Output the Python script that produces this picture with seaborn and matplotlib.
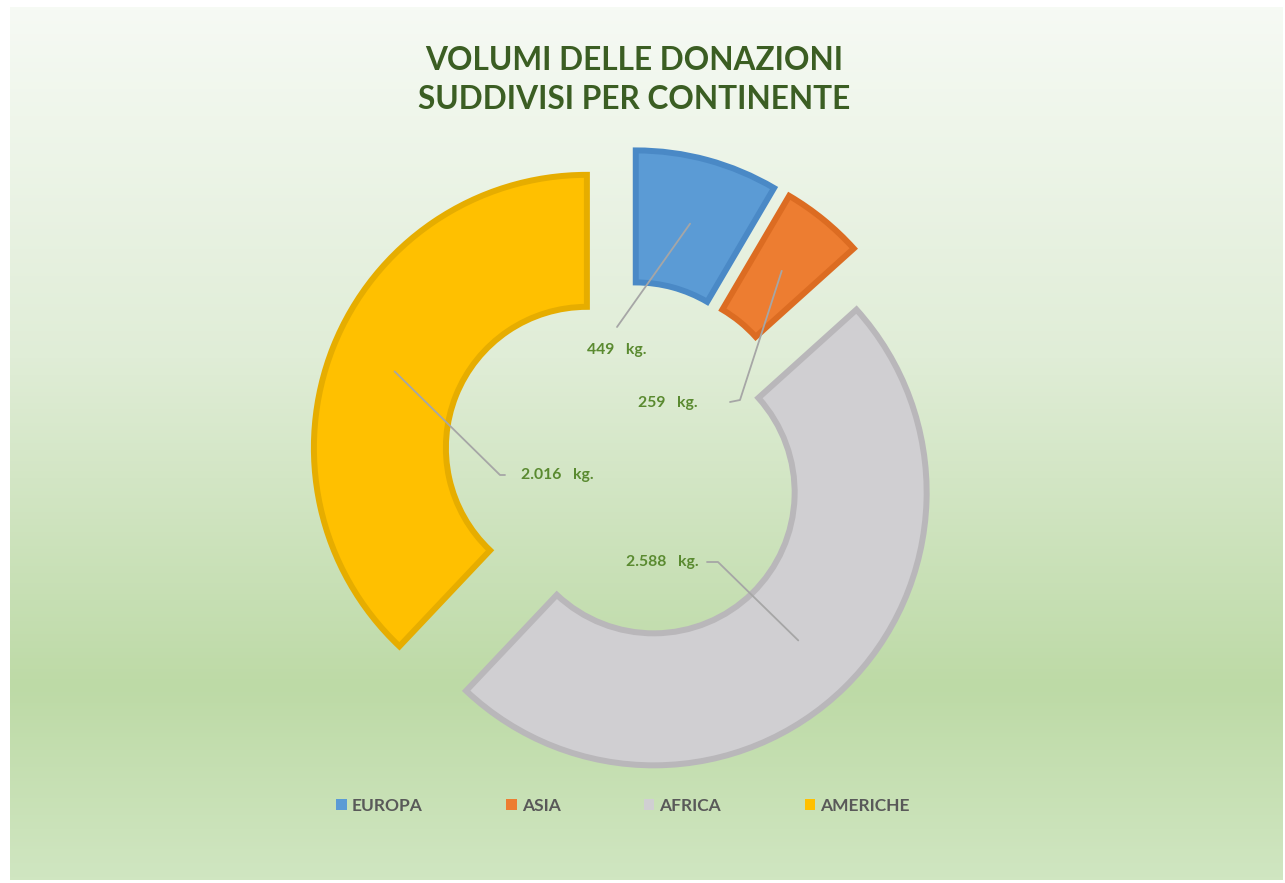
import numpy as np
import matplotlib
matplotlib.use("Agg")
import matplotlib.pyplot as plt
import seaborn as sns
from matplotlib.colors import LinearSegmentedColormap
from matplotlib.patches import Patch

sns.set_style("white")
plt.rcParams['font.family'] = ['Lato', 'DejaVu Sans']

# ---- data ----
categories = ["EUROPA", "ASIA", "AFRICA", "AMERICHE"]
values = [449, 259, 2588, 2016]
value_labels = ["449   kg.", "259   kg.", "2.588   kg.", "2.016   kg."]
fill_colors = ["#5B9BD5", "#ED7D31", "#D0CFD2", "#FFC000"]
edge_colors = ["#4A89C6", "#DC6C22", "#B9B7BA", "#E6AD00"]
title = "VOLUMI DELLE DONAZIONI\nSUDDIVISI PER CONTINENTE"

W, H = 1285, 883
fig = plt.figure(figsize=(W / 100, H / 100), dpi=100)
fig.patch.set_facecolor("white")

# background gradient
bg = fig.add_axes([10 / W, 3 / H, 1273 / W, 873 / H])
cmap = LinearSegmentedColormap.from_list(
    "bg", [(0.0, "#F6FAF4"), (0.4, "#E0EDD7"), (0.78, "#BDDAA6"), (1.0, "#D0E6C1")])
grad = np.linspace(0, 1, 256).reshape(-1, 1)
bg.imshow(grad, aspect="auto", cmap=cmap, extent=[0, 1, 0, 1], origin="upper")
bg.axis("off")

ax = fig.add_axes([0, 0, 1, 1])
ax.patch.set_alpha(0)

cx, cy = 625, H - 463
R, ring = 273, 132
expl = 41
wedges, _ = ax.pie(values, colors=fill_colors, startangle=90, counterclock=False,
                   radius=R, center=(cx, cy), explode=[expl] * len(values),
                   wedgeprops=dict(width=ring, linewidth=4.3, joinstyle="miter"))
for w, ec in zip(wedges, edge_colors):
    w.set_edgecolor(ec)

# label layout (text anchor positions, image px) and elbow points
label_pos = [(617, 350), (668, 403), (662, 562), (557, 475)]
elbow = [(617, 327), (730, 402), (707, 562), (505, 475)]
knee = [(617, 327), (740, 400), (718, 562), (500, 475)]
for w, lp, el, kn, txt in zip(wedges, label_pos, elbow, knee, value_labels):
    th = np.deg2rad((w.theta1 + w.theta2) / 2)
    wx, wy = w.center
    rm = R - ring / 2
    sx, sy = wx + rm * np.cos(th), wy + rm * np.sin(th)
    ax.plot([sx, kn[0], el[0]], [sy, H - kn[1], H - el[1]], color="#A6A6A6", lw=1.3, zorder=5)
    ax.text(lp[0], H - lp[1], txt, ha="center", va="center", fontsize=11.3,
            fontweight="bold", color="#5A8A30", zorder=6)

ax.set_xlim(0, W)
ax.set_ylim(0, H)
ax.set_aspect("equal")
ax.axis("off")

fig.text(634 / W, 1 - 80 / H, title, ha="center", va="center", fontsize=22.8,
         fontweight="bold", color="#3B5E23", linespacing=1.45)

handles = [Patch(facecolor=c, edgecolor="none") for c in fill_colors]
leg = fig.legend(handles, categories, loc="center", bbox_to_anchor=(623 / W, 1 - 806 / H),
                 ncol=4, frameon=False, handlelength=0.6, handleheight=0.6,
                 handletextpad=0.3, columnspacing=4.8,
                 prop=dict(family="Lato", weight="bold", size=12.5))
for t in leg.get_texts():
    t.set_color("#595959")

fig.savefig("out.png", dpi=100, facecolor="white")
